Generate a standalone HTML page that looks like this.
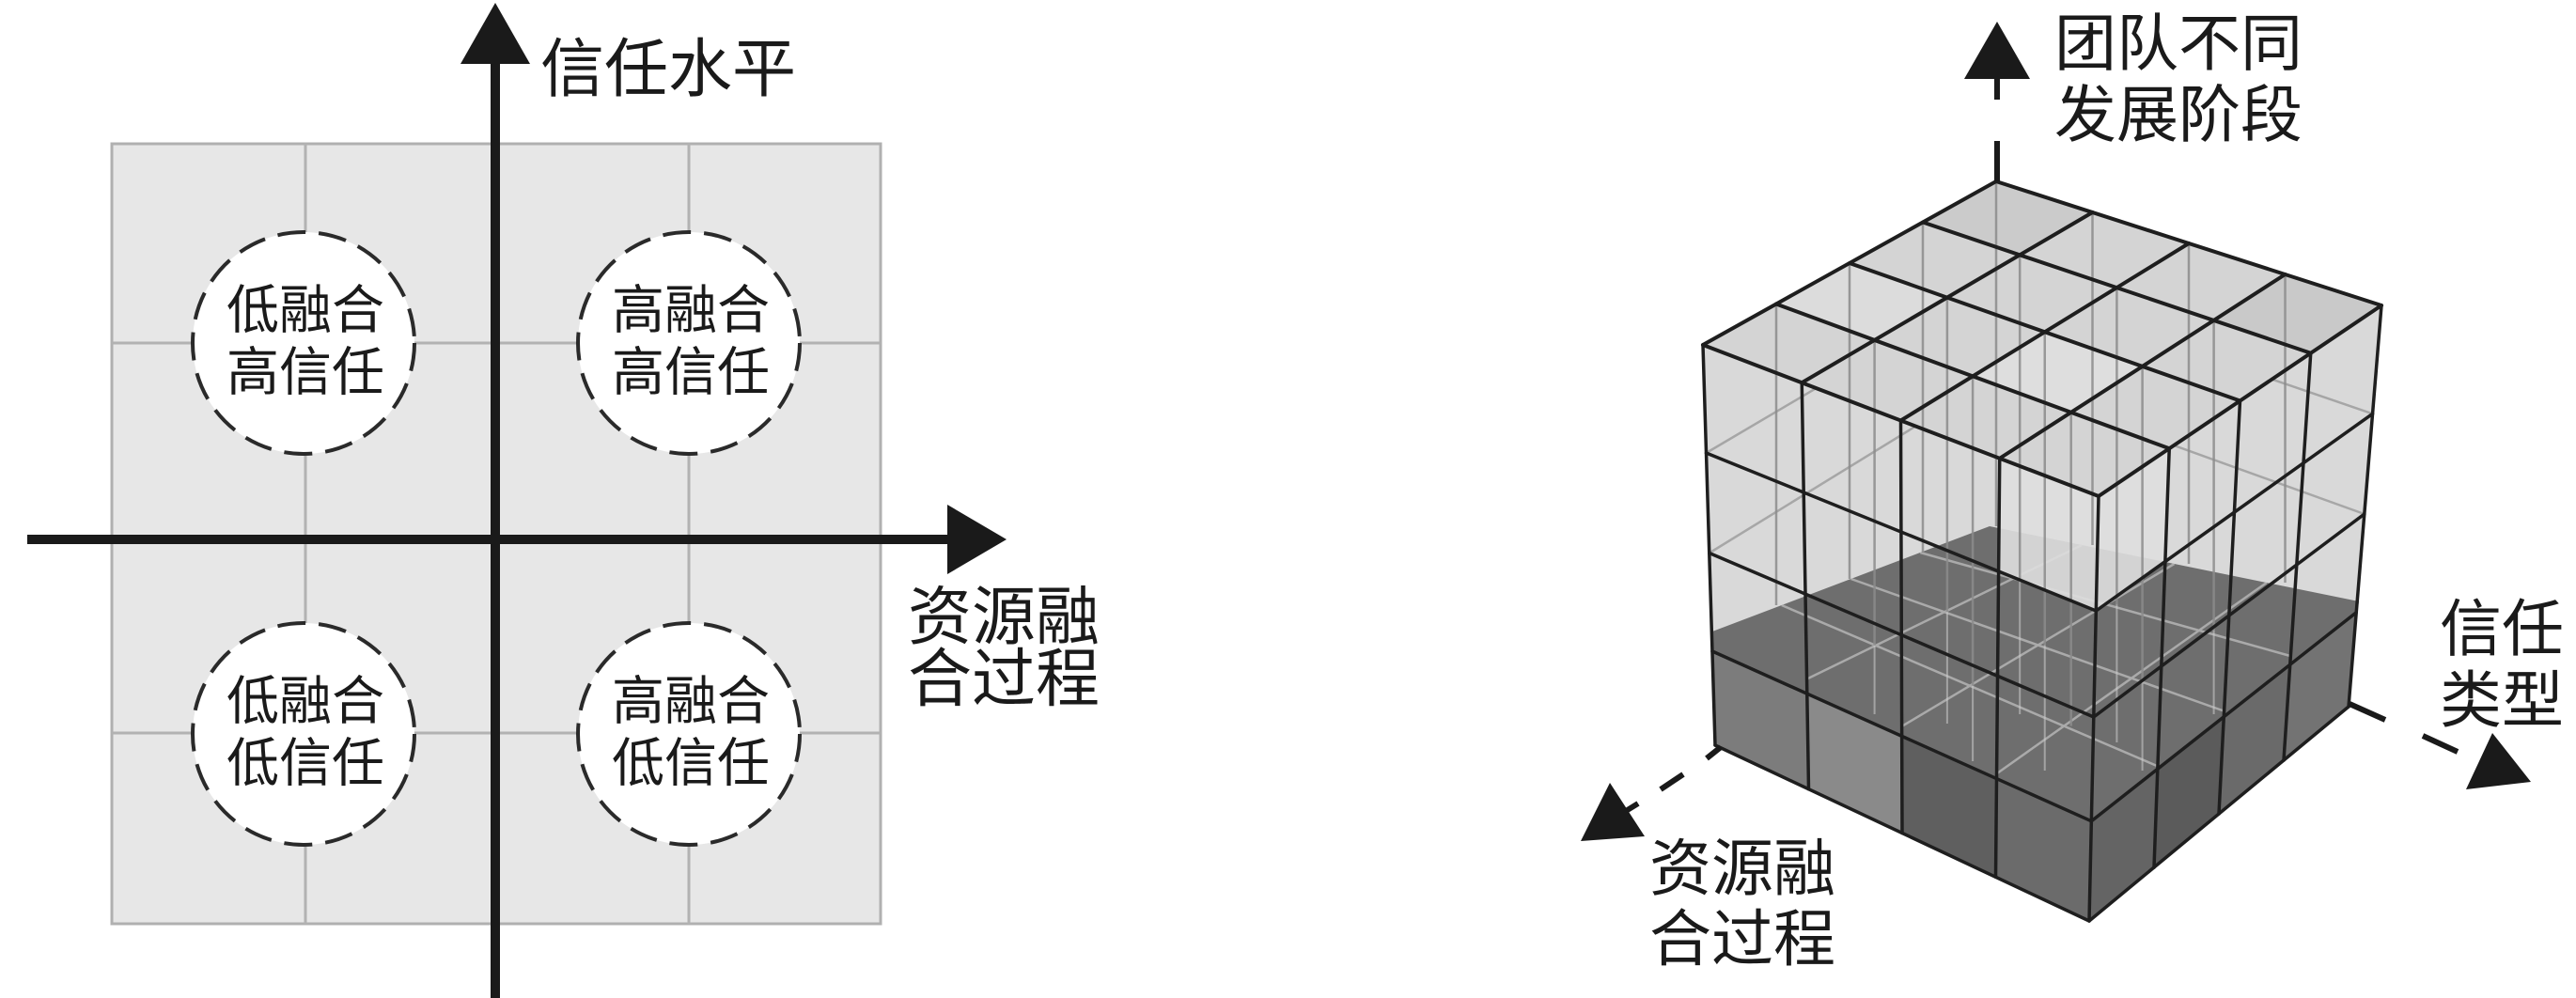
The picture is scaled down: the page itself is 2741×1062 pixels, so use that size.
<!DOCTYPE html>
<html>
<head>
<meta charset="utf-8">
<style>
html,body{margin:0;padding:0;background:#fff;overflow:hidden;}
svg{display:block;}
text{font-family:"Liberation Sans","Noto Sans CJK SC","WenQuanYi Zen Hei",sans-serif;fill:#1a1a1a;}
</style>
</head>
<body>
<svg width="2741" height="1062" viewBox="0 0 2741 1062" xmlns="http://www.w3.org/2000/svg">
<rect x="0" y="0" width="2741" height="1062" fill="#ffffff"/>

<!-- ============ LEFT DIAGRAM ============ -->
<rect x="119" y="153" width="818" height="830" fill="#e7e7e7" stroke="#b0b0b0" stroke-width="3"/>
<g stroke="#b2b2b2" stroke-width="3">
  <line x1="325" y1="153" x2="325" y2="983"/>
  <line x1="733" y1="153" x2="733" y2="983"/>
  <line x1="119" y1="365" x2="937" y2="365"/>
  <line x1="119" y1="780" x2="937" y2="780"/>
</g>

<!-- circles -->
<g fill="#ffffff" stroke="#2a2a2a" stroke-width="4" stroke-dasharray="30 14">
  <circle cx="323" cy="365" r="118"/>
  <circle cx="733" cy="365" r="118"/>
  <circle cx="323" cy="781" r="118"/>
  <circle cx="733" cy="781" r="118"/>
</g>
<g font-size="56" text-anchor="middle" dominant-baseline="central">
  <text x="325" y="330">低融合</text>
  <text x="325" y="396">高信任</text>
  <text x="735" y="330">高融合</text>
  <text x="735" y="396">高信任</text>
  <text x="325" y="746">低融合</text>
  <text x="325" y="812">低信任</text>
  <text x="735" y="746">高融合</text>
  <text x="735" y="812">低信任</text>
</g>

<!-- axes -->
<line x1="527" y1="60" x2="527" y2="1062" stroke="#1a1a1a" stroke-width="10"/>
<polygon points="527,3 490,68 564,68" fill="#1a1a1a"/>
<line x1="29" y1="574" x2="1012" y2="574" stroke="#1a1a1a" stroke-width="10"/>
<polygon points="1071,574 1008,537 1008,611" fill="#1a1a1a"/>

<text x="575" y="74" font-size="68" dominant-baseline="central">信任水平</text>
<text x="966" y="657" font-size="68" dominant-baseline="central">资源融</text>
<text x="966" y="723" font-size="68" dominant-baseline="central">合过程</text>

<!-- ============ RIGHT DIAGRAM (CUBE) ============ -->
<!-- silhouette -->
<polygon points="2124,193 2534,325 2499,752 2223,980 1825,793 1812,367" fill="#d9d9d9"/>

<!-- back-face interior lines (light glass) -->
<g stroke="#9a9a9a" stroke-width="2.5" fill="none" opacity="0.8">
  <polyline points="1815.5,482 2121,302 2524.5,440.3"/>
  <polyline points="1818.8,588.5 2119,404 2515.8,547"/>
</g>

<!-- dark slab top (seen through glass) -->
<polygon points="2117,560 2510,640 2508,652 2225.4,876 1822,695 1822,672" fill="#6e6e6e"/>
<g stroke="#c4c4c4" stroke-width="2.5" opacity="0.7">
  <line x1="2215.25" y1="580" x2="1922.75" y2="722.5"/>
  <line x1="2313.5" y1="600" x2="2023.5" y2="773"/>
  <line x1="2411.75" y1="620" x2="2124.25" y2="823.5"/>
  <line x1="2043.25" y1="588" x2="2438.75" y2="698.5"/>
  <line x1="1969.5" y1="616" x2="2367.5" y2="757"/>
  <line x1="1895.75" y1="644" x2="2296.25" y2="815.5"/>
</g>

<!-- bottom layer cells -->
<polygon points="1822,693 1922.85,738.2 1924.5,839.75 1825,793" fill="#7c7c7c"/>
<polygon points="1922.85,738.2 2023.7,783.4 2024,886.5 1924.5,839.75" fill="#8a8a8a"/>
<polygon points="2023.7,783.4 2124.55,828.6 2123.5,933.25 2024,886.5" fill="#5f5f5f"/>
<polygon points="2124.55,828.6 2225.4,873.8 2223,980 2123.5,933.25" fill="#6b6b6b"/>
<polygon points="2225.4,873.8 2295.85,818.3 2292,923 2223,980" fill="#646464"/>
<polygon points="2295.85,818.3 2366.3,762.75 2361,866 2292,923" fill="#5b5b5b"/>
<polygon points="2366.3,762.75 2436.75,707.2 2430,809 2361,866" fill="#6a6a6a"/>
<polygon points="2436.75,707.2 2507.2,651.7 2499,752 2430,809" fill="#737373"/>

<!-- front column light block -->
<polygon points="2127.75,487.75 2233,528 2308.25,477.25 2303.9,597.6 2230.3,650 2126.6,608" fill="#dedede" opacity="0.9"/>

<!-- top face -->
<polygon points="2124,193 2534,325 2233,528 1812,367" fill="#d4d4d4"/>
<polygon points="2124,193 2226.5,226 2149.2,271.3 2046,236.5" fill="#cbcbcb"/>
<polygon points="2431.5,292 2534,325 2458.75,375.75 2355.6,340.9" fill="#c9c9c9"/>
<polygon points="1968,280 2071.9,316.6 1994.6,361.9 1890,323.5" fill="#dcdcdc"/>
<polygon points="2175.75,353.25 2279.6,389.9 2203.7,438.8 2099.1,400.4" fill="#dedede"/>

<!-- interior vertical glass edges -->
<g stroke="#8c8c8c" stroke-width="2.5" opacity="0.85">
  <line x1="2124" y1="193" x2="2124" y2="560"/>
  <line x1="2226.5" y1="226" x2="2226.5" y2="580"/>
  <line x1="2329" y1="259" x2="2329" y2="600"/>
  <line x1="2431.5" y1="292" x2="2431.5" y2="620"/>
  <line x1="2046" y1="236.5" x2="2046" y2="588"/>
  <line x1="2149.2" y1="271.3" x2="2149.2" y2="615.6"/>
  <line x1="2252.4" y1="306.1" x2="2252.4" y2="643.25"/>
  <line x1="2355.6" y1="340.9" x2="2355.6" y2="670.9"/>
  <line x1="1968" y1="280" x2="1968" y2="616"/>
  <line x1="2071.9" y1="316.6" x2="2071.9" y2="651.25"/>
  <line x1="2175.75" y1="353.25" x2="2175.75" y2="686.5"/>
  <line x1="2279.6" y1="389.9" x2="2279.6" y2="721.75"/>
  <line x1="1890" y1="323.5" x2="1890" y2="644"/>
  <line x1="1994.6" y1="361.9" x2="1994.6" y2="686.9"/>
  <line x1="2099.1" y1="400.4" x2="2099.1" y2="729.75"/>
  <line x1="2203.7" y1="438.8" x2="2203.7" y2="772.6"/>
</g>
<!-- light glass lines inside dark region -->
<g stroke="#d0d0d0" stroke-width="2" opacity="0.55">
  <line x1="2149.2" y1="615.6" x2="2149.2" y2="760"/>
  <line x1="2252.4" y1="643.25" x2="2252.4" y2="790"/>
  <line x1="2355.6" y1="670.9" x2="2355.6" y2="760"/>
  <line x1="2071.9" y1="651.25" x2="2071.9" y2="770"/>
  <line x1="2175.75" y1="686.5" x2="2175.75" y2="820"/>
  <line x1="2279.6" y1="721.75" x2="2279.6" y2="820"/>
  <line x1="1994.6" y1="686.9" x2="1994.6" y2="760"/>
  <line x1="2099.1" y1="729.75" x2="2099.1" y2="810"/>
</g>

<!-- dark outline lines -->
<g stroke="#1e1e1e" stroke-width="4" stroke-linecap="round" fill="none">
  <!-- top face -->
  <line x1="2124" y1="193" x2="1812" y2="367"/>
  <line x1="2226.5" y1="226" x2="1917.25" y2="407.25"/>
  <line x1="2329" y1="259" x2="2022.5" y2="447.5"/>
  <line x1="2431.5" y1="292" x2="2127.75" y2="487.75"/>
  <line x1="2534" y1="325" x2="2233" y2="528"/>
  <line x1="2124" y1="193" x2="2534" y2="325"/>
  <line x1="2046" y1="236.5" x2="2458.75" y2="375.75"/>
  <line x1="1968" y1="280" x2="2383.5" y2="426.5"/>
  <line x1="1890" y1="323.5" x2="2308.25" y2="477.25"/>
  <line x1="1812" y1="367" x2="2233" y2="528"/>
</g>
<g stroke="#1e1e1e" stroke-width="3.5" stroke-linecap="round" fill="none">
  <!-- left face verticals -->
  <line x1="1812" y1="367" x2="1825" y2="793"/>
  <line x1="1917.25" y1="407.25" x2="1924.5" y2="839.75"/>
  <line x1="2022.5" y1="447.5" x2="2024" y2="886.5"/>
  <line x1="2127.75" y1="487.75" x2="2123.5" y2="933.25"/>
  <line x1="2233" y1="528" x2="2223" y2="980"/>
  <!-- right face verticals -->
  <line x1="2308.25" y1="477.25" x2="2292" y2="923"/>
  <line x1="2383.5" y1="426.5" x2="2361" y2="866"/>
  <line x1="2458.75" y1="375.75" x2="2430" y2="809"/>
  <line x1="2534" y1="325" x2="2499" y2="752"/>
  <!-- left face horizontals -->
  <line x1="1815.5" y1="482" x2="2230.3" y2="650"/>
  <line x1="1818.8" y1="588.5" x2="2227.8" y2="763"/>
  <line x1="1822" y1="693" x2="2225.4" y2="873.8"/>
  <line x1="1825" y1="793" x2="2223" y2="980"/>
  <!-- right face horizontals -->
  <line x1="2230.3" y1="650" x2="2524.55" y2="440.3"/>
  <line x1="2227.8" y1="763" x2="2515.8" y2="547"/>
  <line x1="2225.4" y1="873.8" x2="2507.2" y2="651.7"/>
  <line x1="2223" y1="980" x2="2499" y2="752"/>
</g>

<!-- cube axes -->
<g stroke="#1a1a1a" stroke-width="6" fill="none">
  <line x1="2125" y1="150" x2="2125" y2="193"/>
  <line x1="2125" y1="80" x2="2125" y2="106"/>
  <line x1="2500" y1="749" x2="2538" y2="766"/>
  <line x1="2578" y1="783" x2="2615" y2="800"/>
  <line x1="1831" y1="795" x2="1816" y2="807"/>
  <line x1="1791" y1="824" x2="1767" y2="840"/>
  <line x1="1743" y1="855" x2="1730" y2="863"/>
</g>
<polygon points="2125,23 2090,84 2160,84" fill="#1a1a1a"/>
<polygon points="2693,832 2652,780 2624,840" fill="#1a1a1a"/>
<polygon points="1682,895 1713,833 1750,890" fill="#1a1a1a"/>

<!-- cube labels -->
<g font-size="66" dominant-baseline="central">
  <text x="2186" y="46">团队不同</text>
  <text x="2186" y="122">发展阶段</text>
  <text x="2596" y="669">信任</text>
  <text x="2596" y="745">类型</text>
  <text x="1755" y="924">资源融</text>
  <text x="1755" y="999">合过程</text>
</g>
</svg>
</body>
</html>
